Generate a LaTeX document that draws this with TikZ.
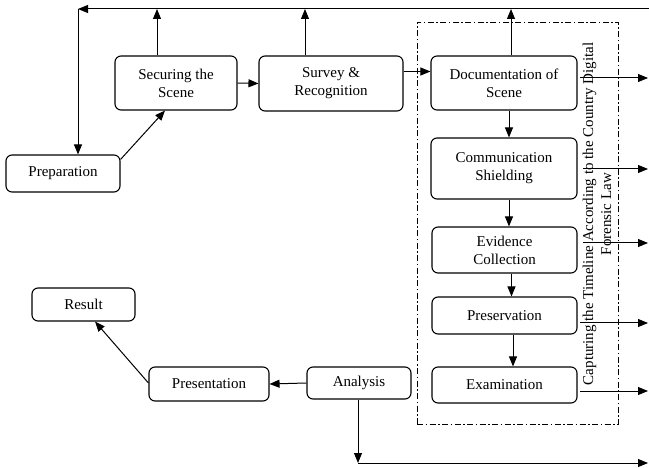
\documentclass[tikz,border=0pt]{standalone}
\usepackage{fontspec}
\setmainfont{Liberation Serif}
\usetikzlibrary{arrows.meta}
\begin{document}
\begin{tikzpicture}[x=1pt,y=-1pt,
  box/.style={draw, line width=1.1pt, rounded corners=6pt, align=center, inner sep=1pt,
    font=\fontsize{15}{18}\selectfont},
  conn/.style={line width=1pt, -{Triangle[length=10pt,width=8pt]}},
  grp/.style={draw, line width=0.9pt, dash pattern=on 6pt off 2.5pt on 1.5pt off 2.5pt}]
\useasboundingbox (0,0) rectangle (649,468);
% group frame
\node[grp, minimum width=201pt, minimum height=402pt] (grpbox) at (517.5,223) {};
% nodes
\node[box, minimum width=114pt, minimum height=37pt] (prep) at (63,173.5) {Preparation};
\node[box, minimum width=122pt, minimum height=54pt] (sec) at (176,83) {Securing the\\Scene};
\node[box, minimum width=144pt, minimum height=55pt] (surv) at (331,83.5) {Survey \&\\Recognition};
\node[box, minimum width=146pt, minimum height=54pt] (doc) at (504,83) {Documentation of\\Scene};
\node[box, minimum width=146pt, minimum height=61pt] (comm) at (504,168.5) {Communication\\Shielding};
\node[box, minimum width=145pt, minimum height=46pt] (evid) at (504.5,250) {Evidence\\Collection};
\node[box, minimum width=145pt, minimum height=37pt] (pres) at (504.5,315.5) {Preservation};
\node[box, minimum width=145pt, minimum height=36pt] (exam) at (504.5,385) {Examination};
\node[box, minimum width=104pt, minimum height=32pt] (anal) at (359,383) {Analysis};
\node[box, minimum width=120pt, minimum height=34pt] (present) at (209,384) {Presentation};
\node[box, minimum width=103pt, minimum height=33pt] (result) at (83.5,304.5) {Result};
% vertical label
\node[rotate=90, align=center, font=\fontsize{15}{18}\selectfont, inner sep=0pt] (lbl) at (597,214)
  {Capturing the Timeline According to the Country Digital\\Forensic Law};
% coordinates
\coordinate (tr) at (649,9);
\coordinate (tl) at (78,9);
\coordinate (bot) at (358,463);
\coordinate (botr) at (648,463);
% top feedback line
\draw[conn] (tr) -- (tl);
\draw[conn] (tl) -- (tl |- prep.north);
\draw[conn] ([yshift=-5pt]prep.north east) -- ([xshift=-11pt]sec.south);
\draw[conn] (sec.east) -- (surv.west);
\draw[conn] ([yshift=12pt]surv.east) -- ([yshift=12pt]surv.east -| doc.west);
\draw[conn] ([xshift=-19pt]sec.north) -- ([xshift=-19pt]sec.north |- tl);
\draw[conn] ([xshift=-26pt]surv.north) -- ([xshift=-26pt]surv.north |- tl);
\draw[conn] ([xshift=7pt]doc.north) -- ([xshift=7pt]doc.north |- tl);
% vertical chain
\draw[conn] ([xshift=5pt]doc.south) -- ([xshift=5pt]doc.south |- comm.north);
\draw[conn] ([xshift=5pt]comm.south) -- ([xshift=5pt]comm.south |- evid.north);
\draw[conn] ([xshift=7pt]evid.south) -- ([xshift=7pt]evid.south |- pres.north);
\draw[conn] ([xshift=8.5pt]pres.south) -- ([xshift=8.5pt]pres.south |- exam.north);
% right outputs
\coordinate (o1) at (580,78);
\coordinate (o2) at (583,169);
\coordinate (o3) at (583,243);
\coordinate (o4) at (580,323);
\coordinate (o5) at (580,391);
\draw[conn] (o1) -- (648,78);
\draw[conn] (o2) -- (648,169);
\draw[conn] (o3) -- (648,243);
\draw[conn] (o4) -- (648,323);
\draw[conn] (o5) -- (648,391);
% bottom
\draw[conn] (anal.west) -- (present.east);
\draw[conn] ([yshift=1pt]present.west) -- ([xshift=11.5pt]result.south);
\draw[conn] (anal.south -| bot) -- (bot);
\draw[conn] (bot) -- (botr);
\end{tikzpicture}
\end{document}
